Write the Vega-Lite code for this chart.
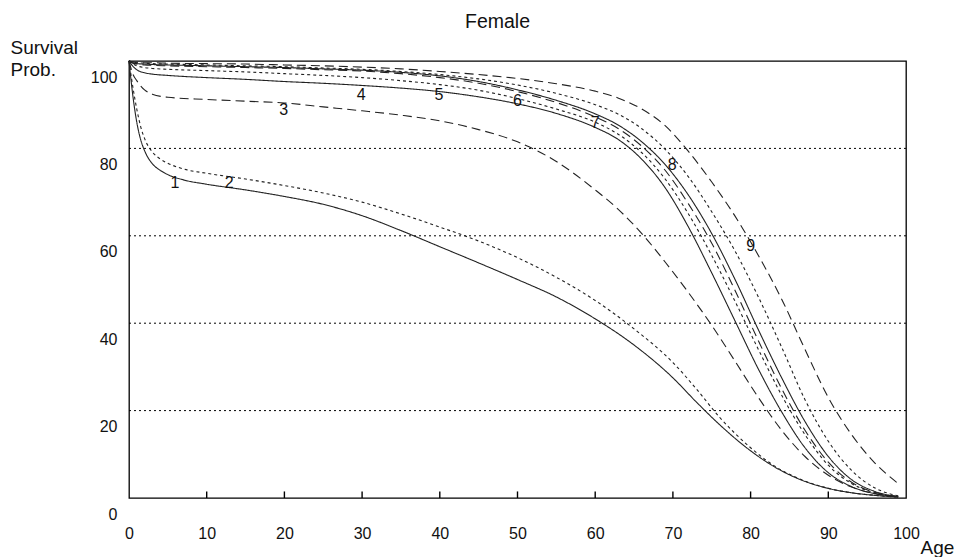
{
  "$schema": "https://vega.github.io/schema/vega-lite/v6.json",
  "width": 777,
  "height": 437,
  "autosize": {"type": "none"},
  "padding": {"left": 129, "top": 61, "right": 48, "bottom": 59},
  "background": "white",
  "title": {"text": "Female", "fontSize": 19.5, "font": "Liberation Sans", "fontWeight": "normal", "color": "#111", "offset": 6, "dx": -20},
  "config": {
    "view": {"stroke": "#000", "strokeWidth": 1.3},
    "font": "Liberation Sans"
  },
  "datasets": {
    "grid": [{"v": 20}, {"v": 40}, {"v": 60}, {"v": 80}],
    "xtickmarks": [{"a": 10, "v": 0, "v2": 1.5}, {"a": 20, "v": 0, "v2": 1.5}, {"a": 30, "v": 0, "v2": 1.5}, {"a": 40, "v": 0, "v2": 1.5}, {"a": 50, "v": 0, "v2": 1.5}, {"a": 60, "v": 0, "v2": 1.5}, {"a": 70, "v": 0, "v2": 1.5}, {"a": 80, "v": 0, "v2": 1.5}, {"a": 90, "v": 0, "v2": 1.5}],
    "labels": [
      {"t": "1", "a": 5.9, "v": 72.1}, {"t": "2", "a": 12.9, "v": 72.1}, {"t": "3", "a": 19.9, "v": 88.9},
      {"t": "4", "a": 29.9, "v": 92.3}, {"t": "5", "a": 39.9, "v": 92.3}, {"t": "6", "a": 50, "v": 90.8},
      {"t": "7", "a": 60, "v": 85.8}, {"t": "8", "a": 69.9, "v": 76.3}, {"t": "9", "a": 80, "v": 57.7}
    ],
    "curves": [
      {"c":"1","a":0,"v":100},{"c":"1","a":0.5,"v":92},{"c":"1","a":1,"v":86},{"c":"1","a":1.5,"v":82},{"c":"1","a":2,"v":79.5},{"c":"1","a":3,"v":76.5},{"c":"1","a":4,"v":75},{"c":"1","a":5,"v":74},{"c":"1","a":7,"v":72.8},{"c":"1","a":10,"v":71.8},{"c":"1","a":15,"v":70.5},{"c":"1","a":20,"v":69},{"c":"1","a":25,"v":67.2},{"c":"1","a":30,"v":64.6},{"c":"1","a":35,"v":61.2},{"c":"1","a":40,"v":57.5},{"c":"1","a":45,"v":53.8},{"c":"1","a":50,"v":50},{"c":"1","a":55,"v":46},{"c":"1","a":60,"v":41},{"c":"1","a":65,"v":35},{"c":"1","a":70,"v":27.5},{"c":"1","a":73,"v":22},{"c":"1","a":76,"v":16.8},{"c":"1","a":80,"v":10.8},{"c":"1","a":83,"v":7.2},{"c":"1","a":86,"v":4.5},{"c":"1","a":90,"v":2.2},{"c":"1","a":93,"v":1.2},{"c":"1","a":96,"v":0.6},{"c":"1","a":99,"v":0.2},
      {"c":"2","a":0,"v":100},{"c":"2","a":0.5,"v":94},{"c":"2","a":1,"v":89},{"c":"2","a":1.5,"v":85},{"c":"2","a":2,"v":82.3},{"c":"2","a":3,"v":79.2},{"c":"2","a":4,"v":77.6},{"c":"2","a":5,"v":76.6},{"c":"2","a":7,"v":75.3},{"c":"2","a":10,"v":74.3},{"c":"2","a":15,"v":73},{"c":"2","a":20,"v":71.5},{"c":"2","a":25,"v":69.8},{"c":"2","a":30,"v":67.7},{"c":"2","a":35,"v":65},{"c":"2","a":40,"v":62},{"c":"2","a":45,"v":58.8},{"c":"2","a":50,"v":55},{"c":"2","a":55,"v":50.5},{"c":"2","a":60,"v":45.2},{"c":"2","a":65,"v":38.7},{"c":"2","a":70,"v":31},{"c":"2","a":73,"v":25},{"c":"2","a":76,"v":18.5},{"c":"2","a":80,"v":11.5},{"c":"2","a":83,"v":7.4},{"c":"2","a":86,"v":4.6},{"c":"2","a":90,"v":2.2},{"c":"2","a":93,"v":1.2},{"c":"2","a":96,"v":0.6},{"c":"2","a":99,"v":0.2},
      {"c":"3","a":0,"v":100},{"c":"3","a":0.5,"v":97},{"c":"3","a":1,"v":95.5},{"c":"3","a":2,"v":93.4},{"c":"3","a":3,"v":92.4},{"c":"3","a":5,"v":91.7},{"c":"3","a":10,"v":91.2},{"c":"3","a":15,"v":90.8},{"c":"3","a":20,"v":90.4},{"c":"3","a":25,"v":89.5},{"c":"3","a":30,"v":88.6},{"c":"3","a":35,"v":87.6},{"c":"3","a":40,"v":86.3},{"c":"3","a":45,"v":84.3},{"c":"3","a":50,"v":81.5},{"c":"3","a":55,"v":77},{"c":"3","a":60,"v":70.5},{"c":"3","a":63,"v":66},{"c":"3","a":66,"v":60.5},{"c":"3","a":69,"v":54},{"c":"3","a":72,"v":47},{"c":"3","a":75,"v":39.5},{"c":"3","a":78,"v":31.3},{"c":"3","a":81,"v":23},{"c":"3","a":84,"v":15.5},{"c":"3","a":87,"v":9.5},{"c":"3","a":90,"v":5.2},{"c":"3","a":93,"v":2.5},{"c":"3","a":96,"v":1},{"c":"3","a":99,"v":0.3},
      {"c":"4","a":0,"v":100},{"c":"4","a":0.5,"v":98.8},{"c":"4","a":1,"v":98},{"c":"4","a":2,"v":97.3},{"c":"4","a":3,"v":97},{"c":"4","a":5,"v":96.7},{"c":"4","a":10,"v":96.2},{"c":"4","a":15,"v":95.8},{"c":"4","a":20,"v":95.3},{"c":"4","a":25,"v":94.9},{"c":"4","a":30,"v":94.4},{"c":"4","a":35,"v":93.8},{"c":"4","a":40,"v":93},{"c":"4","a":45,"v":91.8},{"c":"4","a":50,"v":90.2},{"c":"4","a":55,"v":88},{"c":"4","a":60,"v":84.8},{"c":"4","a":63,"v":82},{"c":"4","a":66,"v":77.5},{"c":"4","a":69,"v":71},{"c":"4","a":72,"v":62},{"c":"4","a":75,"v":51.5},{"c":"4","a":78,"v":40.5},{"c":"4","a":81,"v":29.5},{"c":"4","a":84,"v":19.7},{"c":"4","a":87,"v":11.5},{"c":"4","a":90,"v":5.8},{"c":"4","a":93,"v":2.6},{"c":"4","a":96,"v":1},{"c":"4","a":99,"v":0.3},
      {"c":"5","a":0,"v":100},{"c":"5","a":0.5,"v":99.3},{"c":"5","a":1,"v":98.9},{"c":"5","a":2,"v":98.5},{"c":"5","a":3,"v":98.3},{"c":"5","a":5,"v":98.1},{"c":"5","a":10,"v":97.8},{"c":"5","a":15,"v":97.5},{"c":"5","a":20,"v":97.1},{"c":"5","a":25,"v":96.7},{"c":"5","a":30,"v":96.2},{"c":"5","a":35,"v":95.5},{"c":"5","a":40,"v":94.6},{"c":"5","a":45,"v":93.3},{"c":"5","a":50,"v":91.4},{"c":"5","a":55,"v":89},{"c":"5","a":60,"v":86},{"c":"5","a":63,"v":83.2},{"c":"5","a":66,"v":79},{"c":"5","a":69,"v":73},{"c":"5","a":72,"v":65},{"c":"5","a":75,"v":55.5},{"c":"5","a":78,"v":45},{"c":"5","a":81,"v":34},{"c":"5","a":84,"v":23.5},{"c":"5","a":87,"v":14.5},{"c":"5","a":90,"v":7.5},{"c":"5","a":93,"v":3.3},{"c":"5","a":96,"v":1.2},{"c":"5","a":99,"v":0.3},
      {"c":"6","a":0,"v":100},{"c":"6","a":0.5,"v":99.5},{"c":"6","a":1,"v":99.3},{"c":"6","a":2,"v":99.1},{"c":"6","a":3,"v":99},{"c":"6","a":5,"v":98.9},{"c":"6","a":10,"v":98.7},{"c":"6","a":15,"v":98.5},{"c":"6","a":20,"v":98.3},{"c":"6","a":25,"v":98},{"c":"6","a":30,"v":97.7},{"c":"6","a":35,"v":97.1},{"c":"6","a":40,"v":96.2},{"c":"6","a":45,"v":94.9},{"c":"6","a":50,"v":93},{"c":"6","a":55,"v":90.5},{"c":"6","a":60,"v":87.2},{"c":"6","a":63,"v":84.5},{"c":"6","a":66,"v":80.5},{"c":"6","a":69,"v":75},{"c":"6","a":72,"v":67.3},{"c":"6","a":75,"v":58.3},{"c":"6","a":78,"v":47.5},{"c":"6","a":81,"v":36},{"c":"6","a":84,"v":25},{"c":"6","a":87,"v":15.5},{"c":"6","a":90,"v":8.2},{"c":"6","a":93,"v":3.6},{"c":"6","a":96,"v":1.3},{"c":"6","a":99,"v":0.3},
      {"c":"7","a":0,"v":100},{"c":"7","a":0.5,"v":99.6},{"c":"7","a":1,"v":99.4},{"c":"7","a":2,"v":99.3},{"c":"7","a":3,"v":99.2},{"c":"7","a":5,"v":99.1},{"c":"7","a":10,"v":98.9},{"c":"7","a":15,"v":98.7},{"c":"7","a":20,"v":98.5},{"c":"7","a":25,"v":98.2},{"c":"7","a":30,"v":97.9},{"c":"7","a":35,"v":97.4},{"c":"7","a":40,"v":96.6},{"c":"7","a":45,"v":95.3},{"c":"7","a":50,"v":93.4},{"c":"7","a":55,"v":91},{"c":"7","a":60,"v":87.9},{"c":"7","a":63,"v":85.3},{"c":"7","a":66,"v":81.5},{"c":"7","a":69,"v":76.3},{"c":"7","a":72,"v":69.3},{"c":"7","a":75,"v":60.5},{"c":"7","a":78,"v":50},{"c":"7","a":81,"v":38.5},{"c":"7","a":84,"v":27.5},{"c":"7","a":87,"v":17.5},{"c":"7","a":90,"v":9.5},{"c":"7","a":93,"v":4.2},{"c":"7","a":96,"v":1.5},{"c":"7","a":99,"v":0.3},
      {"c":"8","a":0,"v":100},{"c":"8","a":0.5,"v":99.7},{"c":"8","a":1,"v":99.6},{"c":"8","a":2,"v":99.5},{"c":"8","a":3,"v":99.4},{"c":"8","a":5,"v":99.3},{"c":"8","a":10,"v":99.1},{"c":"8","a":15,"v":98.9},{"c":"8","a":20,"v":98.7},{"c":"8","a":25,"v":98.4},{"c":"8","a":30,"v":98.1},{"c":"8","a":35,"v":97.6},{"c":"8","a":40,"v":96.9},{"c":"8","a":45,"v":95.9},{"c":"8","a":50,"v":94.5},{"c":"8","a":55,"v":92.6},{"c":"8","a":60,"v":90},{"c":"8","a":63,"v":87.8},{"c":"8","a":66,"v":84.5},{"c":"8","a":69,"v":79.8},{"c":"8","a":72,"v":73.5},{"c":"8","a":75,"v":65.5},{"c":"8","a":78,"v":56.5},{"c":"8","a":81,"v":46},{"c":"8","a":84,"v":34.5},{"c":"8","a":87,"v":22.5},{"c":"8","a":90,"v":13},{"c":"8","a":93,"v":6.3},{"c":"8","a":96,"v":2.3},{"c":"8","a":99,"v":0.5},
      {"c":"9","a":0,"v":100},{"c":"9","a":0.5,"v":99.8},{"c":"9","a":1,"v":99.7},{"c":"9","a":2,"v":99.6},{"c":"9","a":3,"v":99.6},{"c":"9","a":5,"v":99.5},{"c":"9","a":10,"v":99.4},{"c":"9","a":15,"v":99.3},{"c":"9","a":20,"v":99.1},{"c":"9","a":25,"v":98.9},{"c":"9","a":30,"v":98.6},{"c":"9","a":35,"v":98.2},{"c":"9","a":40,"v":97.6},{"c":"9","a":45,"v":96.9},{"c":"9","a":50,"v":96},{"c":"9","a":55,"v":94.8},{"c":"9","a":60,"v":93.1},{"c":"9","a":63,"v":91.5},{"c":"9","a":66,"v":89},{"c":"9","a":69,"v":85.2},{"c":"9","a":72,"v":79.3},{"c":"9","a":75,"v":72.3},{"c":"9","a":78,"v":64.5},{"c":"9","a":81,"v":55.5},{"c":"9","a":84,"v":45.5},{"c":"9","a":87,"v":34},{"c":"9","a":90,"v":23},{"c":"9","a":93,"v":14.5},{"c":"9","a":96,"v":8},{"c":"9","a":99,"v":3.3}
    ]
  },
  "encoding": {
    "x": {
      "field": "a", "type": "quantitative",
      "scale": {"domain": [0, 100], "nice": false, "zero": false},
      "axis": {
        "values": [0, 10, 20, 30, 40, 50, 60, 70, 80, 90, 100],
        "grid": false, "domain": false, "ticks": false,
        "labelPadding": 27, "labelFlush": false, "labelFontSize": 16, "labelColor": "#111", "labelFont": "Liberation Sans",
        "title": "Age", "titleX": 808, "titleY": 49, "titleAlign": "center", "titleBaseline": "middle",
        "titleFontSize": 19, "titleFontWeight": "normal", "titleColor": "#111", "titleFont": "Liberation Sans"
      }
    },
    "y": {
      "field": "v", "type": "quantitative",
      "scale": {"domain": [0, 100], "nice": false, "zero": false},
      "axis": {
        "values": [0, 20, 40, 60, 80, 100],
        "grid": false, "domain": false, "ticks": false,
        "labelOffset": 16, "labelPadding": 12, "labelFontSize": 16, "labelColor": "#111", "labelFont": "Liberation Sans",
        "title": ["Survival", "Prob."], "titleAngle": 0, "titleAlign": "left", "titleBaseline": "alphabetic",
        "titleX": -119, "titleY": -8, "titleLineHeight": 22,
        "titleFontSize": 19, "titleFontWeight": "normal", "titleColor": "#111", "titleFont": "Liberation Sans"
      }
    }
  },
  "layer": [
    {
      "data": {"name": "grid"},
      "mark": {"type": "rule", "strokeDash": [2, 3], "color": "#000", "strokeWidth": 1},
      "encoding": {
        "x": {"value": 0},
        "x2": {"value": 777}
      }
    },
    {
      "data": {"name": "xtickmarks"},
      "mark": {"type": "rule", "color": "#000", "strokeWidth": 1.4},
      "encoding": {
        "y2": {"field": "v2"}
      }
    },
    {
      "data": {"name": "curves"},
      "mark": {"type": "line", "interpolate": "monotone", "strokeWidth": 1.1, "color": "#222"},
      "encoding": {
        "detail": {"field": "c", "type": "nominal"},
        "strokeDash": {
          "field": "c", "type": "nominal",
          "scale": {"domain": ["1","2","3","4","5","6","7","8","9"], "range": [[1,0],[3,3],[9,5],[1,0],[3,3],[9,5],[1,0],[3,3],[9,5]]},
          "legend": null
        }
      }
    },
    {
      "data": {"name": "labels"},
      "mark": {"type": "text", "fontSize": 16, "color": "#111", "font": "Liberation Sans", "baseline": "middle", "align": "center"},
      "encoding": {
        "text": {"field": "t", "type": "nominal"}
      }
    }
  ]
}
